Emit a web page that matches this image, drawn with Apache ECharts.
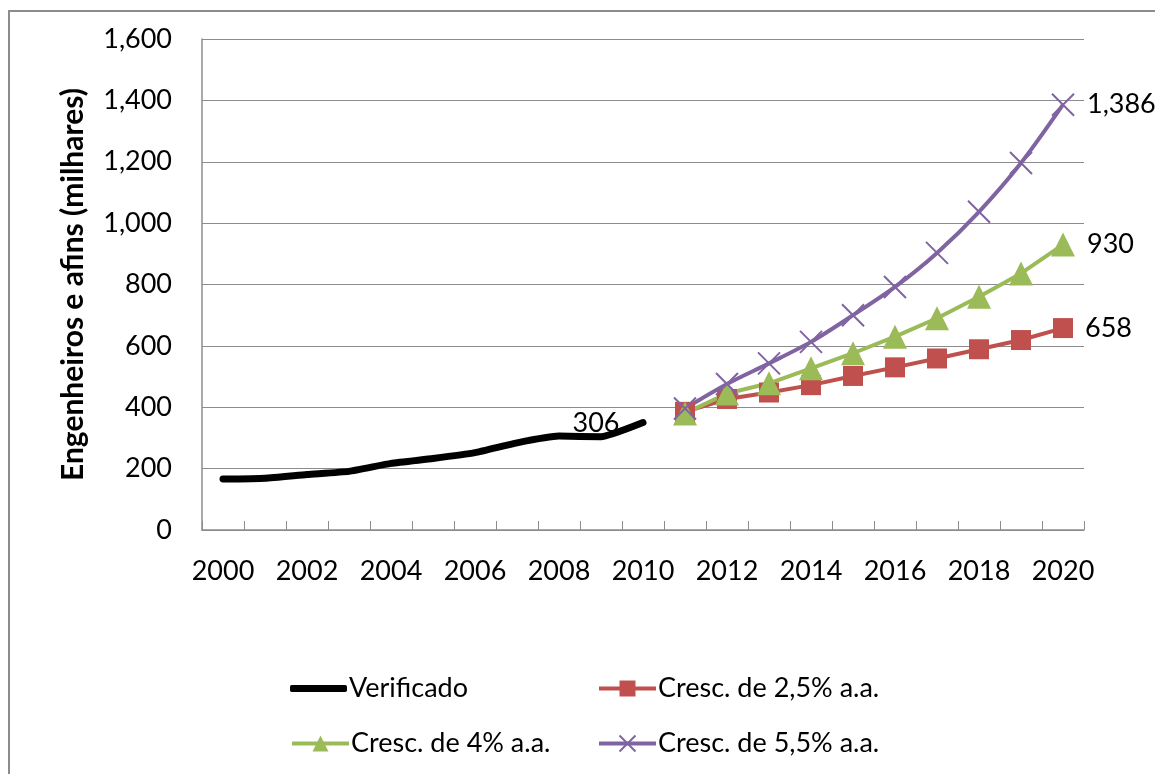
<!DOCTYPE html>
<html>
<head>
<meta charset="utf-8">
<script src="https://cdn.jsdelivr.net/npm/echarts@6/dist/echarts.min.js"></script>
<style>
  html, body { margin: 0; padding: 0; background: #fff; }
  #chart { width: 1155px; height: 774px; }
</style>
</head>
<body>
<div id="chart"></div>
<script>
// anos (categorias)
const years = ['2000', '2001', '2002', '2003', '2004', '2005', '2006', '2007', '2008', '2009', '2010',
  '2011', '2012', '2013', '2014', '2015', '2016', '2017', '2018', '2019', '2020']

// séries (milhares)
const verificado = [166, 169, 181, 191, 217, 233, 252, 284, 306, 304, 350]
const cresc25 = [385, 427, 448, 472, 502, 530, 559, 589, 619, 658]
const cresc4 = [380, 445, 478, 527, 576, 630, 690, 760, 836, 930]
const cresc55 = [396, 476, 543, 613, 700, 792, 903, 1037, 1196, 1386]

const yTicks = [0, 200, 400, 600, 800, 1000, 1200, 1400, 1600]

const FONT = 'Lato'
const GREY = '#8c8c8c'

// completa com null até o tamanho das categorias
const padEnd = (arr) => arr.concat(new Array(years.length - arr.length).fill(null))
const padStart = (arr) => new Array(years.length - arr.length).fill(null).concat(arr)

// rótulo só no último ponto
const lastLabel = (arr) => padStart(arr).map((v, i) =>
  i === years.length - 1
    ? { value: v, label: { show: true, position: 'right', distance: 12, formatter: (p) => p.value.toLocaleString('en-US') } }
    : v
)

// rótulo "306" sobre 2008
const verificadoData = padEnd(verificado).map((v, i) =>
  years[i] === '2008'
    ? { value: v, label: { show: true, position: 'top', distance: 4, offset: [37, 5] } }
    : v
)

const chart = echarts.init(document.getElementById('chart'))

const labelText = { fontFamily: FONT, fontSize: 27, color: '#000' }

const legendBase = {
  itemWidth: 57,
  itemHeight: 20,
  itemGap: 4,
  lineStyle: { width: 4 },
  textStyle: { fontFamily: FONT, fontSize: 27, color: '#000', padding: [0, 0, 0, -3] },
}

chart.setOption({
  animation: false,
  graphic: [{
    type: 'rect',
    shape: { x: 9, y: 11, width: 1300, height: 900 },
    style: { fill: 'none', stroke: GREY, lineWidth: 2 },
  }],
  grid: { left: 202, right: 71, top: 39, bottom: 244 },
  legend: [
    Object.assign({}, legendBase, {
      data: [{ name: 'Verificado', icon: 'roundRect' }],
      left: 285, top: 670, itemHeight: 7,
    }),
    Object.assign({ data: ['Cresc. de 2,5% a.a.'], left: 592, top: 670 }, legendBase),
    Object.assign({ data: ['Cresc. de 4% a.a.'], left: 285, top: 725 }, legendBase),
    Object.assign({ data: ['Cresc. de 5,5% a.a.'], left: 592, top: 725 }, legendBase),
  ],
  xAxis: {
    type: 'category',
    data: years,
    boundaryGap: true,
    axisLine: { lineStyle: { color: GREY, width: 1.5 } },
    axisTick: { show: true, inside: true, length: 9, interval: 0, lineStyle: { color: GREY } },
    axisLabel: Object.assign({ interval: 1, margin: 28 }, labelText),
  },
  yAxis: {
    type: 'value',
    min: yTicks[0],
    max: yTicks[yTicks.length - 1],
    interval: 200,
    name: 'Engenheiros e afins (milhares)',
    nameLocation: 'middle',
    nameGap: 114,
    nameTextStyle: { fontFamily: FONT, fontSize: 30, fontWeight: 'bold', color: '#000' },
    axisLine: { show: true, lineStyle: { color: GREY, width: 1.5 } },
    axisTick: { show: false },
    splitLine: { lineStyle: { color: GREY, width: 1 } },
    axisLabel: Object.assign({ margin: 30, formatter: (v) => v.toLocaleString('en-US') }, labelText),
  },
  series: [
    {
      name: 'Verificado',
      type: 'line',
      data: verificadoData,
      smooth: 0.15,
      symbol: 'circle',
      symbolSize: 0.1,
      showSymbol: true,
      color: '#000',
      lineStyle: { width: 7, color: '#000', cap: 'round', join: 'round' },
      label: Object.assign({ show: false }, labelText),
    },
    {
      name: 'Cresc. de 2,5% a.a.',
      type: 'line',
      data: lastLabel(cresc25),
      symbol: 'rect',
      symbolSize: 20,
      color: '#C0504D',
      lineStyle: { width: 4, color: '#C0504D' },
      label: labelText,
    },
    {
      name: 'Cresc. de 4% a.a.',
      type: 'line',
      data: lastLabel(cresc4),
      symbol: 'triangle',
      symbolSize: 24,
      color: '#9BBB59',
      lineStyle: { width: 4, color: '#9BBB59' },
      label: labelText,
    },
    {
      name: 'Cresc. de 5,5% a.a.',
      type: 'line',
      data: lastLabel(cresc55),
      smooth: 0.3,
      symbol: 'path://M0,0L20,20M20,0L0,20',
      symbolSize: 22,
      color: '#8064A2',
      itemStyle: { color: '#8064A2', borderColor: '#8064A2', borderWidth: 2 },
      lineStyle: { width: 4, color: '#8064A2' },
      label: labelText,
    },
  ],
})
</script>
</body>
</html>
